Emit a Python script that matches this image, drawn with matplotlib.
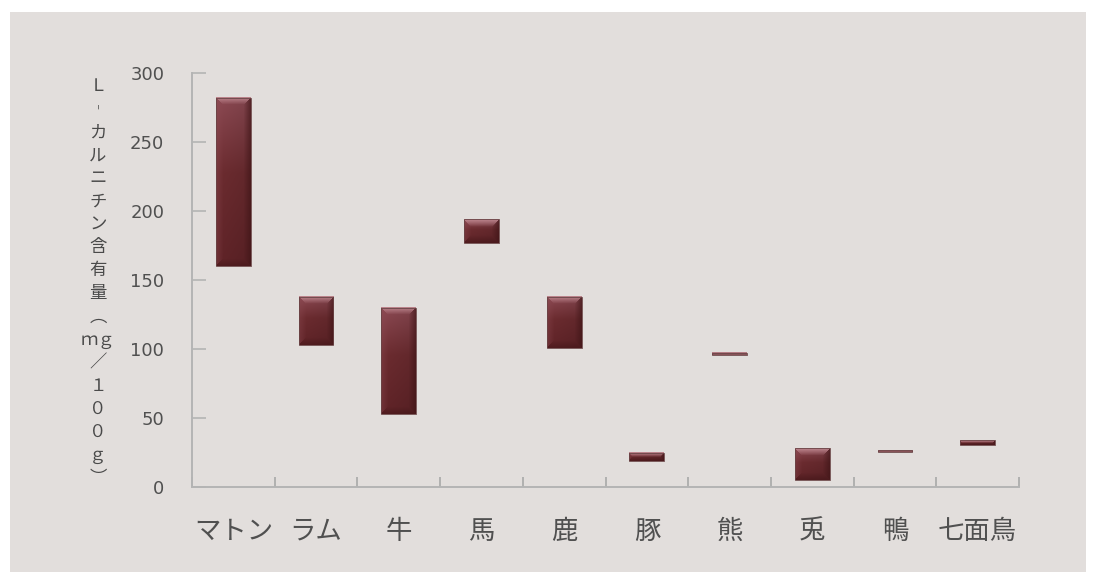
import numpy as np
import matplotlib
matplotlib.use("Agg")
import matplotlib.pyplot as plt
from matplotlib.patches import Rectangle
from matplotlib.colors import to_rgb

plt.rcParams['font.family'] = ['Noto Sans CJK JP', 'DejaVu Sans']

# L-carnitine content ranges (mg/100g) per meat
categories = ["マトン", "ラム", "牛", "馬", "鹿", "豚", "熊", "兎", "鴨", "七面鳥"]
low_values = [160, 103, 53, 177, 101, 19, 95.5, 5, 25.5, 30.5]
high_values = [282, 138, 130, 194, 138, 25, 97, 28, 26.8, 34]
yticks = [0, 50, 100, 150, 200, 250, 300]
ylabel_chars = ["Ｌ", "︲", "カ", "ル", "ニ", "チ", "ン", "含", "有", "量",
                "︵", "ｍｇ", "／", "１", "０", "０", "ｇ", "︶"]

W, H = 1096, 572
fig = plt.figure(figsize=(W / 100, H / 100), dpi=100)
fig.patch.set_facecolor('white')
fig.patches.append(Rectangle((10 / W, 0), (1086 - 10) / W, (H - 12) / H,
                             transform=fig.transFigure, facecolor='#e2dedc',
                             edgecolor='none', zorder=-10))

ax = fig.add_axes([192 / W, 1 - 487 / H, (1019 - 192) / W, (487 - 73) / H])
ax.set_facecolor('none')
ax.set_xlim(-0.5, len(categories) - 0.5)
ax.set_ylim(0, 300)

x = np.arange(len(categories))
heights = [h - l for h, l in zip(high_values, low_values)]
bars = ax.bar(x, heights, bottom=low_values, width=0.42, color='none',
              edgecolor='#6a4446', linewidth=0.6, zorder=4)


def bevel_image(wpx, hpx, bevel=7.0):
    w = max(int(round(wpx)), 2)
    h = max(int(round(hpx)), 2)
    b = min(bevel, h / 2.0, w / 2.0)
    yy, xx = np.mgrid[0:h, 0:w].astype(float)
    t = yy / max(h - 1, 1)
    c_top = np.array(to_rgb('#874750'))
    c_mid = np.array(to_rgb('#682a2e'))
    c_bot = np.array(to_rgb('#5c2226'))
    g = np.clip(t / 0.45, 0, 1)[..., None]
    img = c_top * (1 - g) + c_mid * g
    g2 = np.clip((t - 0.45) / 0.55, 0, 1)[..., None]
    img = img * (1 - g2) + c_bot * g2
    # slight horizontal shading
    hx = (xx / max(w - 1, 1))[..., None]
    img = img * (1.05 - 0.12 * hx)
    dt, db = yy, h - 1 - yy
    dl, dr = xx, w - 1 - xx
    dmin = np.minimum(np.minimum(dt, db), np.minimum(dl, dr))
    top = (dt == dmin) & (dt < b)
    bottom = (db == dmin) & (db < b) & ~top
    left = (dl == dmin) & (dl < b) & ~top & ~bottom
    right = (dr == dmin) & (dr < b) & ~top & ~bottom & ~left
    pink = np.array(to_rgb('#c48e96'))
    dark = np.array(to_rgb('#3e1416'))
    lite = np.array(to_rgb('#8a4a52'))
    s = (1 - dt / max(b, 1e-6)) * 0.85
    img[top] = img[top] * (1 - s[top, None]) + pink * s[top, None]
    s = (1 - db / max(b, 1e-6)) * 0.45
    img[bottom] = img[bottom] * (1 - s[bottom, None]) + dark * s[bottom, None]
    s = (1 - dl / max(b, 1e-6)) * 0.35
    img[left] = img[left] * (1 - s[left, None]) + lite * s[left, None]
    s = (1 - dr / max(b, 1e-6)) * 0.6
    img[right] = img[right] * (1 - s[right, None]) + dark * s[right, None]
    if h <= 3:
        # very thin ranges read as a light line
        img = img * 0.4 + np.array(to_rgb('#b07880')) * 0.6
    return np.clip(img, 0, 1)


for p in bars.patches:
    x0, y0 = p.get_x(), p.get_y()
    x1, y1 = x0 + p.get_width(), y0 + p.get_height()
    (px0, py0), (px1, py1) = ax.transData.transform([(x0, y0), (x1, y1)])
    img = bevel_image(px1 - px0, py1 - py0)
    ax.imshow(img, extent=(x0, x1, y0, y1), aspect='auto',
              interpolation='bilinear', zorder=3)

ax.set_xlim(-0.5, len(categories) - 0.5)
ax.set_ylim(0, 300)

for side in ['top', 'right']:
    ax.spines[side].set_visible(False)
for side in ['left', 'bottom']:
    ax.spines[side].set_color('#b4b4b4')
    ax.spines[side].set_linewidth(1.4)

ax.set_yticks(yticks)
ax.set_yticklabels([str(v) for v in yticks], family='DejaVu Sans')
ax.tick_params(axis='y', direction='in', length=10, width=1.2, color='#b4b4b4',
               labelsize=13, labelcolor='#505050', pad=20)

ax.set_xticks(x)
ax.set_xticklabels(categories)
ax.tick_params(axis='x', which='major', length=0, labelsize=19,
               labelcolor='#505050', pad=22)
ax.set_xticks(np.arange(-0.5, len(categories)), minor=True)
ax.tick_params(axis='x', which='minor', direction='in', length=7, width=1.2,
               color='#a8a8a8')

fig.text(98 / W, 1 - 282 / H, "\n".join(ylabel_chars), ha='center',
         va='center', fontsize=12.5, color='#4a4a4a', linespacing=1.36)

fig.savefig('out.png', dpi=100, facecolor=fig.get_facecolor())
